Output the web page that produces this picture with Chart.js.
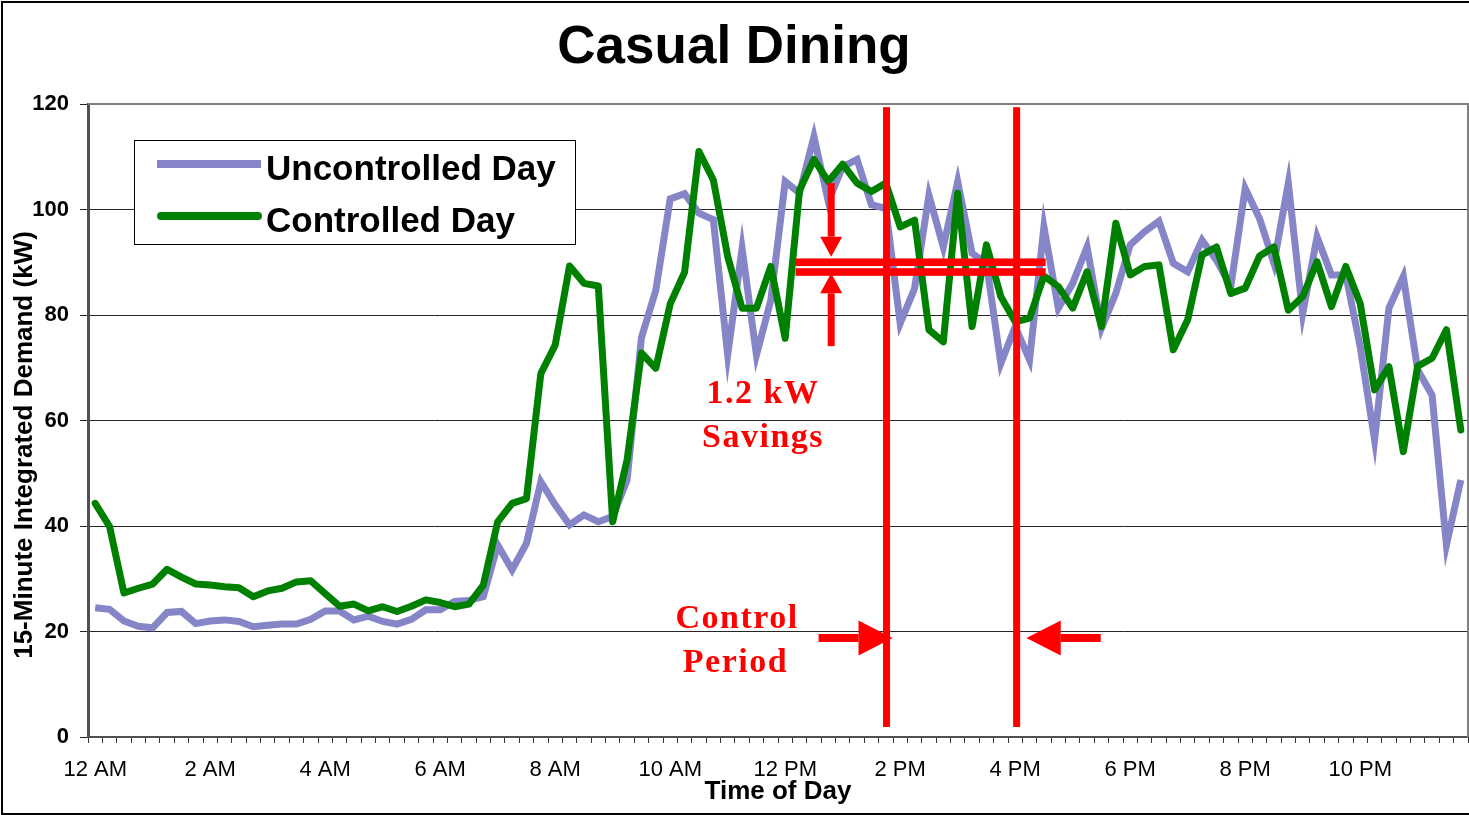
<!DOCTYPE html>
<html>
<head>
<meta charset="utf-8">
<title>Casual Dining</title>
<script src="https://cdn.jsdelivr.net/npm/chart.js@4.4.1/dist/chart.umd.min.js"></script>
<style>
  html, body { margin: 0; padding: 0; background: #fff; }
  canvas { display: block; }
</style>
</head>
<body>
<canvas id="chart" width="1469" height="815"></canvas>
<script>
// x axis labels, one every 2 hours (every 8th quarter hour)
const tickLabels = ['12 AM', '2 AM', '4 AM', '6 AM', '8 AM', '10 AM',
                    '12 PM', '2 PM', '4 PM', '6 PM', '8 PM', '10 PM'];

// 15-minute demand readings (kW)
const uncontrolledDay = [
  24.5, 24.2, 22.0, 21.0, 20.7, 23.6, 23.8, 21.5,
  22.0, 22.2, 21.9, 20.9, 21.2, 21.4, 21.4, 22.3,
  23.9, 23.9, 22.2, 22.9, 21.9, 21.4, 22.3, 24.1,
  24.1, 25.7, 25.9, 26.6, 36.4, 31.7, 36.7, 48.4,
  44.0, 40.2, 42.1, 40.8, 41.8, 48.7, 75.7, 84.7,
  102.0, 103.0, 99.3, 98.1, 72.4, 92.6, 72.4, 82.8,
  105.3, 103.1, 113.8, 101.5, 108.1, 109.5, 100.9, 100.2,
  78.4, 85.0, 102.7, 92.9, 105.3, 91.7, 89.8, 70.8,
  77.8, 71.5, 96.7, 81.3, 86.0, 92.9, 77.5, 84.1,
  93.3, 95.8, 97.8, 89.8, 88.2, 94.2, 90.4, 85.4,
  104.0, 98.3, 89.8, 105.0, 80.3, 94.8, 87.6, 87.6,
  74.0, 56.3, 81.3, 87.3, 69.6, 64.8, 36.4, 48.7
];
const controlledDay = [
  44.3, 39.9, 27.3, 28.2, 29.0, 31.8, 30.3, 29.0,
  28.8, 28.5, 28.3, 26.6, 27.7, 28.2, 29.4, 29.6,
  27.2, 24.8, 25.2, 23.9, 24.7, 23.8, 24.8, 26.0,
  25.5, 24.7, 25.2, 28.8, 40.8, 44.3, 45.2, 68.9,
  74.3, 89.3, 86.0, 85.5, 40.8, 52.5, 72.8, 69.9,
  82.1, 88.1, 111.0, 105.6, 91.1, 81.3, 81.3, 89.2,
  75.6, 103.7, 109.5, 105.3, 108.6, 105.0, 103.4, 105.0,
  96.7, 98.0, 77.2, 74.9, 103.1, 77.8, 93.3, 83.5,
  78.7, 79.4, 87.4, 85.4, 81.3, 88.2, 77.8, 97.4,
  87.6, 89.2, 89.5, 73.4, 79.1, 91.4, 92.9, 84.1,
  85.1, 91.2, 92.9, 80.9, 83.5, 90.1, 81.6, 89.2,
  82.2, 65.8, 70.2, 54.1, 70.3, 71.8, 77.2, 58.2
];

// quarter-hour categories
const timeSlots = [];
for (let i = 0; i < 96; i++) {
  const h = Math.floor(i / 4), m = (i % 4) * 15;
  const h12 = h % 12 === 0 ? 12 : h % 12;
  timeSlots.push(h12 + ':' + String(m).padStart(2, '0') + (h < 12 ? ' AM' : ' PM'));
}

const SANS = '"Liberation Sans", Arial, Helvetica, sans-serif';
const SERIF = '"Liberation Serif", "Times New Roman", serif';
const RED = '#ff0000';

// red markup: control period bars, savings lines, arrows and notes
const markupPlugin = {
  id: 'markup',
  afterDatasetsDraw(chart) {
    const ctx = chart.ctx;
    const xs = chart.scales.x, ys = chart.scales.y;
    const px = v => xs.getPixelForValue(v);
    const py = v => ys.getPixelForValue(v);
    ctx.save();
    ctx.fillStyle = RED;

    // control period
    [55.05, 64.1].forEach(v => {
      ctx.fillRect(px(v) - 3.5, py(119.4), 7, py(1.9) - py(119.4));
    });

    // savings lines
    [90.0, 88.15].forEach(v => {
      ctx.fillRect(px(48.72), py(v) - 3.8, px(66.12) - px(48.72), 7.6);
    });

    // vertical arrows
    const ax = px(51.2);
    ctx.fillRect(ax - 3.5, py(105), 7, py(94.85) - py(105));
    ctx.beginPath();
    ctx.moveTo(ax - 11, py(94.85)); ctx.lineTo(ax + 11, py(94.85)); ctx.lineTo(ax, py(91.05));
    ctx.closePath(); ctx.fill();
    ctx.fillRect(ax - 3.5, py(84.1), 7, py(74.1) - py(84.1));
    ctx.beginPath();
    ctx.moveTo(ax - 11, py(84.1)); ctx.lineTo(ax + 11, py(84.1)); ctx.lineTo(ax, py(87.9));
    ctx.closePath(); ctx.fill();

    // horizontal arrows
    const ay = py(18.77);
    ctx.fillRect(px(50.32), ay - 4, px(53.1) - px(50.32), 8);
    ctx.beginPath();
    ctx.moveTo(px(53.1), ay - 17.5); ctx.lineTo(px(53.1), ay + 17.5); ctx.lineTo(px(55.47), ay);
    ctx.closePath(); ctx.fill();
    ctx.fillRect(px(67.17), ay - 4, px(69.95) - px(67.17), 8);
    ctx.beginPath();
    ctx.moveTo(px(67.17), ay - 17.5); ctx.lineTo(px(67.17), ay + 17.5); ctx.lineTo(px(64.78), ay);
    ctx.closePath(); ctx.fill();

    // notes
    ctx.font = 'bold 34px ' + SERIF;
    ctx.textAlign = 'center';
    ctx.textBaseline = 'alphabetic';
    ctx.letterSpacing = '1.5px';
    ctx.fillText('1.2 kW', px(46.46), py(63.3));
    ctx.fillText('Savings', px(46.46), py(55.0));
    ctx.fillText('Control', px(44.65), py(20.66));
    ctx.fillText('Period', px(44.54), py(12.3));
    ctx.restore();
  }
};

// plot frame, outer frame, y title and legend box
const framePlugin = {
  id: 'frame',
  afterDraw(chart) {
    const ctx = chart.ctx;
    const a = chart.chartArea;
    ctx.save();

    // plot area border (top and right, grey)
    ctx.strokeStyle = '#808080';
    ctx.lineWidth = 2;
    ctx.beginPath();
    ctx.moveTo(a.left, a.top); ctx.lineTo(a.right, a.top); ctx.lineTo(a.right, a.bottom);
    ctx.stroke();

    // outer border
    ctx.strokeStyle = '#000';
    ctx.lineWidth = 2;
    ctx.strokeRect(2, 2, chart.width + 4, chart.height - 3);

    // y axis title
    ctx.save();
    ctx.translate(25, 445);
    ctx.rotate(-Math.PI / 2);
    ctx.font = 'bold 26px ' + SANS;
    ctx.fillStyle = '#000';
    ctx.textAlign = 'center';
    ctx.textBaseline = 'middle';
    ctx.fillText('15-Minute Integrated Demand (kW)', 0, 0);
    ctx.restore();

    // legend
    const lx = a.left + 46, ly = a.top + 36;
    ctx.fillStyle = '#fff';
    ctx.fillRect(lx, ly, 441, 104);
    ctx.strokeStyle = '#000';
    ctx.lineWidth = 1;
    ctx.strokeRect(lx + 0.5, ly + 0.5, 441, 104);
    const ds = chart.data.datasets;
    const rows = [{ d: ds[0], y: ly + 24, cap: 'butt', x0: lx + 23, x1: lx + 127, base: ly + 40 },
                  { d: ds[1], y: ly + 76, cap: 'round', x0: lx + 27, x1: lx + 124, base: ly + 92 }];
    rows.forEach(r => {
      ctx.strokeStyle = r.d.borderColor;
      ctx.lineWidth = 8;
      ctx.lineCap = r.cap;
      ctx.beginPath();
      ctx.moveTo(r.x0, r.y); ctx.lineTo(r.x1, r.y);
      ctx.stroke();
      ctx.fillStyle = '#000';
      ctx.font = 'bold 35px ' + SANS;
      ctx.textAlign = 'left';
      ctx.textBaseline = 'alphabetic';
      ctx.fillText(r.d.label, lx + 132, r.base);
    });
    ctx.restore();
  }
};

new Chart(document.getElementById('chart'), {
  type: 'line',
  data: {
    labels: timeSlots,
    datasets: [
      {
        label: 'Uncontrolled Day',
        data: uncontrolledDay,
        borderColor: '#8585c8',
        borderWidth: 7,
        borderJoinStyle: 'miter',
        pointRadius: 0,
        tension: 0,
        order: 1
      },
      {
        label: 'Controlled Day',
        data: controlledDay,
        borderColor: '#008000',
        borderWidth: 7,
        borderJoinStyle: 'round',
        borderCapStyle: 'round',
        pointRadius: 0,
        tension: 0,
        order: 0
      }
    ]
  },
  options: {
    responsive: false,
    devicePixelRatio: 1,
    animation: false,
    events: [],
    layout: { padding: { left: 0, right: 1, top: 0, bottom: 0 } },
    plugins: {
      legend: { display: false },
      tooltip: { enabled: false },
      title: {
        display: true,
        text: 'Casual Dining',
        color: '#000',
        font: { family: SANS, size: 53, weight: 'bold' },
        padding: { top: 17, bottom: 23.4 }
      }
    },
    scales: {
      x: {
        offset: true,
        afterFit: s => { s.height = 78; s.paddingLeft = 0; s.paddingRight = 0; },
        grid: { offset: true, drawOnChartArea: false, drawTicks: true, tickLength: 6, color: '#333' },
        border: { display: true, color: '#505050', width: 2 },
        ticks: {
          autoSkip: false,
          maxRotation: 0,
          padding: 14,
          color: '#000',
          font: { family: SANS, size: 22 },
          callback: (v, i) => (i % 8 === 0 ? tickLabels[i / 8] : '')
        },
        title: {
          display: true,
          text: 'Time of Day',
          color: '#000',
          font: { family: SANS, size: 26, weight: 'bold' },
          padding: { top: 0, bottom: 8 }
        }
      },
      y: {
        min: 0,
        max: 120,
        afterFit: s => { s.width = 88; s.paddingTop = 0; s.paddingBottom = 0; },
        grid: { color: '#262626', lineWidth: 1, tickLength: 8 },
        border: { display: true, color: '#505050', width: 3 },
        ticks: {
          stepSize: 20,
          padding: 11,
          color: '#000',
          font: { family: SANS, size: 22, weight: 'bold' }
        }
      }
    }
  },
  plugins: [markupPlugin, framePlugin]
});
</script>
</body>
</html>
